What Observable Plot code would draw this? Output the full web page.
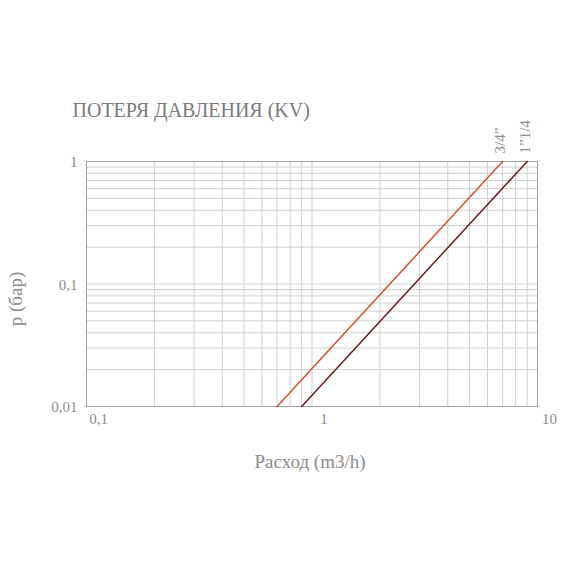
<!DOCTYPE html>
<html><head><meta charset="utf-8">
<script src="https://cdn.jsdelivr.net/npm/d3@7"></script>
<script src="https://cdn.jsdelivr.net/npm/@observablehq/plot@0.6"></script>
<style>body{margin:0;background:#fff}</style>
</head><body><div id="chart"></div>
<script>
const title = "ПОТЕРЯ ДАВЛЕНИЯ (KV)";
const xLabel = "Расход (m3/h)";
const yLabel = "p (бар)";
const series = ["3/4”", "1”1/4"];
const seriesColors = ["#d4512f", "#6a1c1c"];
const flow34 = [0.7, 7];
const flow114 = [0.9, 9];
const pressure = [0.01, 1];
const xTicks = [0.1, 1, 10];
const xTickLabels = ["0,1", "1", "10"];
const yTicks = [0.01, 0.1, 1];
const yTickLabels = ["0,01", "0,1", "1"];
const xGrid = [0.1,0.2,0.3,0.4,0.5,0.6,0.7,0.8,0.9,1,2,3,4,5,6,7,8,9,10];
const yGrid = [0.01,0.02,0.03,0.04,0.05,0.06,0.07,0.08,0.09,0.1,0.2,0.3,0.4,0.5,0.6,0.7,0.8,0.9,1];

const rows = [
  ...flow34.map((q, i) => ({series: series[0], q, p: pressure[i]})),
  ...flow114.map((q, i) => ({series: series[1], q, p: pressure[i]}))
];
const tops = rows.filter(d => d.p === pressure[pressure.length - 1]);
const font = "Liberation Serif";
const gray = "#8c8c8c";

const chart = Plot.plot({
  width: 570, height: 570,
  marginLeft: 86, marginRight: 33, marginTop: 161, marginBottom: 164,
  style: {fontFamily: font, background: "#fff"},
  x: {type: "log", domain: [0.1, 10]},
  y: {type: "log", domain: [0.01, 1]},
  color: {domain: series, range: seriesColors},
  marks: [
    Plot.gridX(xGrid, {stroke: "#cfcfcf", strokeOpacity: 1}),
    Plot.gridY(yGrid, {stroke: "#cfcfcf", strokeOpacity: 1}),
    Plot.frame({stroke: "#a0a0a0"}),
    Plot.axisX({ticks: xTicks, tickFormat: d => xTickLabels[xTicks.indexOf(d)], tickSize: 0, tickPadding: 7, dx: 12, fontSize: 15, fill: gray, label: null}),
    Plot.axisY({ticks: yTicks, tickFormat: d => yTickLabels[yTicks.indexOf(d)], tickSize: 0, tickPadding: 9, dy: 1, fontSize: 15, fill: gray, label: null}),
    Plot.line(rows, {x: "q", y: "p", z: "series", stroke: "series", strokeWidth: 1.5}),
    Plot.text(tops, {x: "q", y: "p", text: "series", rotate: -90, textAnchor: "start", lineAnchor: "middle", dy: -8, dx: -2, fontSize: 15, fill: gray}),
    Plot.text([title], {frameAnchor: "top-left", textAnchor: "start", lineAnchor: "middle", dx: -14, dy: -51, fontSize: 20, fill: "#7a7a7a"}),
    Plot.text([xLabel], {frameAnchor: "bottom", textAnchor: "middle", lineAnchor: "middle", dx: -2, dy: 55, fontSize: 19, fill: gray}),
    Plot.text([yLabel], {frameAnchor: "left", textAnchor: "middle", lineAnchor: "middle", rotate: -90, dx: -71, dy: 15, fontSize: 19, fill: gray})
  ]
});
document.getElementById("chart").append(chart);
</script>
</body></html>
